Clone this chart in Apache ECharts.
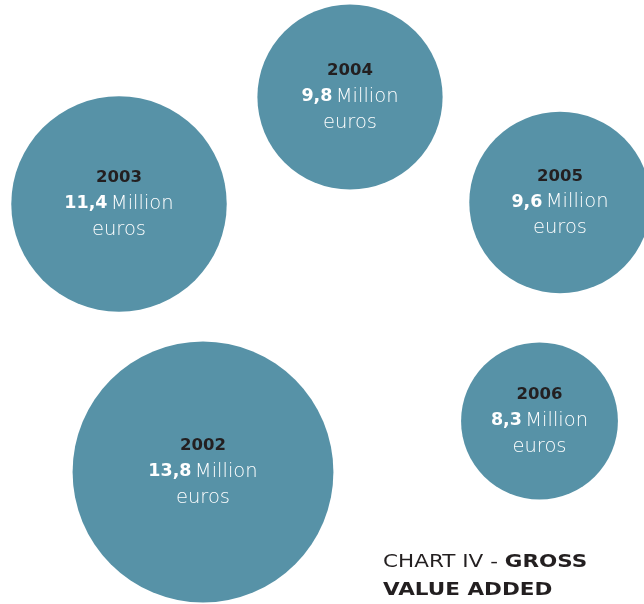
<!DOCTYPE html>
<html>
<head>
<meta charset="utf-8">
<script src="https://cdn.jsdelivr.net/npm/echarts@6/dist/echarts.min.js"></script>
<style>html,body{margin:0;padding:0;background:#fff}#c{width:644px;height:604px}</style>
</head>
<body>
<div id="c"></div>
<script>
// Data
const years = ['2002', '2003', '2004', '2005', '2006'];
const values = [13.8, 11.4, 9.8, 9.6, 8.3];           // Million euros
// Bubble placement in the (hidden) layout axes' units
const bubbleX = [203, 119, 350, 560, 539.5];
const bubbleY = [472, 204, 97, 202.5, 421];
const unitLabel = 'Million';
const unitLabel2 = 'euros';
const titleLine1a = 'CHART IV - ';
const titleLine1b = 'GROSS';
const titleLine2 = 'VALUE ADDED';

const sizePerUnit = 18.9; // diameter per million euros

const seriesData = years.map((y, i) => ({
  name: y,
  value: [bubbleX[i], bubbleY[i], values[i]]
}));

const chart = echarts.init(document.getElementById('c'));
chart.setOption({
  animation: false,
  backgroundColor: '#ffffff',
  grid: { left: 0, right: 0, top: 0, bottom: 0 },
  xAxis: { type: 'value', min: 0, max: 644, show: false },
  yAxis: { type: 'value', min: 0, max: 604, inverse: true, show: false },
  graphic: [{
    type: 'text',
    x: 383, y: 549,
    scaleX: 1.265,
    silent: true,
    style: {
      text: '{r|' + titleLine1a + '}{b|' + titleLine1b + '}\n{b|' + titleLine2 + '}',
      verticalAlign: 'top',
      align: 'left',
      rich: {
        r: { fontFamily: 'DejaVu Sans', fontSize: 17, fontWeight: 400, fill: '#231f20', lineHeight: 28 },
        b: { fontFamily: 'DejaVu Sans', fontSize: 17, fontWeight: 700, fill: '#231f20', lineHeight: 28 }
      }
    }
  }],
  series: [{
    type: 'scatter',
    data: seriesData,
    symbol: 'circle',
    symbolSize: v => v[2] * sizePerUnit,
    itemStyle: { color: '#5792a7', opacity: 1 },
    label: {
      show: true,
      position: 'inside',
      align: 'center',
      formatter: p => '{y|' + p.name + '}\n{v|' + p.value[2].toFixed(1).replace('.', ',') + '} {m|' + unitLabel + '}\n{m|' + unitLabel2 + '}',
      rich: {
        y: { fontFamily: 'DejaVu Sans', fontSize: 16.5, fontWeight: 700, color: '#231f20', lineHeight: 25, align: 'center' },
        v: { fontFamily: 'DejaVu Sans', fontSize: 17.5, fontWeight: 700, color: '#ffffff', lineHeight: 26, align: 'center' },
        m: { fontFamily: 'DejaVu Sans', fontSize: 19.5, fontWeight: 200, color: '#ffffff', lineHeight: 26, align: 'center' }
      }
    },
    emphasis: { disabled: true }
  }]
});
</script>
</body>
</html>
